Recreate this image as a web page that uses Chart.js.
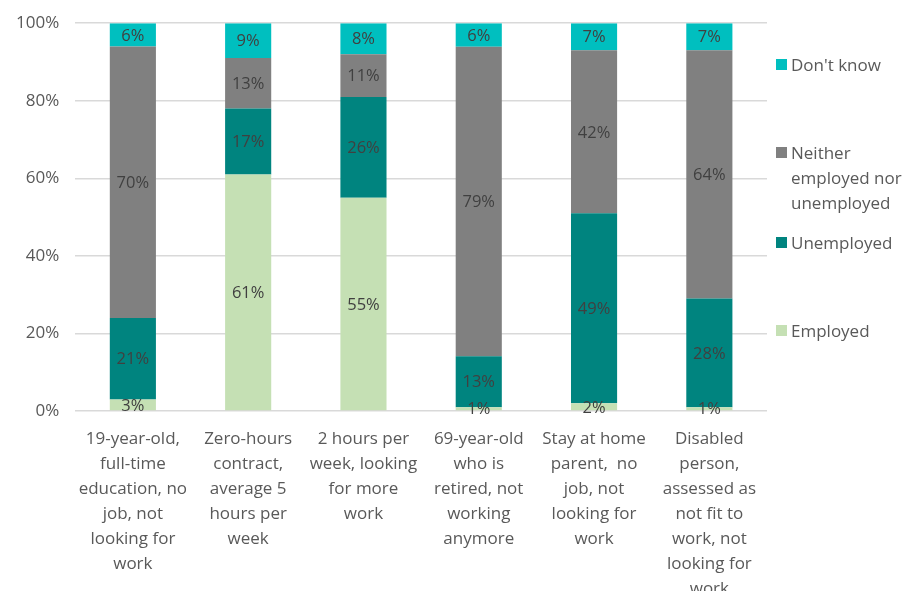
<!DOCTYPE html>
<html>
<head>
<meta charset="utf-8">
<script src="https://cdn.jsdelivr.net/npm/chart.js@4/dist/chart.umd.min.js"></script>
<style>
  html, body { margin: 0; padding: 0; background: #fff; }
  #wrap { position: relative; width: 906px; height: 591px; overflow: hidden; }
  #chart { position: absolute; left: 0; top: -3px; }
  #legend { position: absolute; left: 776px; top: 0; font-family: 'Open Sans', sans-serif; font-size: 17px; color: #595959; }
  .item { position: absolute; left: 0; width: 130px; line-height: 25px; }
  .sw { position: absolute; left: 0; top: 7px; width: 11px; height: 11px; }
  .txt { position: absolute; left: 15px; top: 0; white-space: nowrap; }
</style>
</head>
<body>
<div id="wrap">
  <canvas id="chart" width="906" height="613"></canvas>
  <div id="legend"></div>
</div>
<script>
const categories = [
    ['19-year-old,', 'full-time', 'education, no', 'job, not', 'looking for', 'work'],
    ['Zero-hours', 'contract,', 'average 5', 'hours per', 'week'],
    ['2 hours per', 'week, looking', 'for more', 'work'],
    ['69-year-old', 'who is', 'retired, not', 'working', 'anymore'],
    ['Stay at home', 'parent,  no', 'job, not', 'looking for', 'work'],
    ['Disabled', 'person,', 'assessed as', 'not fit to', 'work, not', 'looking for', 'work']
];
const employed = [3, 61, 55, 1, 2, 1];
const unemployed = [21, 17, 26, 13, 49, 28];
const neither = [70, 13, 11, 79, 42, 64];
const dontKnow = [6, 9, 8, 6, 7, 7];

const yTicks = [0, 20, 40, 60, 80, 100];

const seriesNames = ['Employed', 'Unemployed', ['Neither', 'employed nor', 'unemployed'], "Don't know"];
const seriesColors = ['#c5e0b4', '#00847f', '#808080', '#00bfbf'];
const seriesValues = [employed, unemployed, neither, dontKnow];

// 100% stacked: each bar scaled to its own total
const totals = categories.map((c, j) => seriesValues.reduce((s, arr) => s + arr[j], 0));

const segmentLabels = {
    id: 'segmentLabels',
    afterDatasetsDraw(chart) {
        const ctx = chart.ctx;
        ctx.save();
        ctx.font = '16.5px "Open Sans", sans-serif';
        ctx.fillStyle = '#404040';
        ctx.textAlign = 'center';
        ctx.textBaseline = 'middle';
        chart.data.datasets.forEach((ds, i) => {
            chart.getDatasetMeta(i).data.forEach((bar, j) => {
                ctx.fillText(seriesValues[i][j] + '%', bar.x, (bar.y + bar.base) / 2 + 1);
            });
        });
        ctx.restore();
    }
};

const datasets = seriesValues.map((d, i) => ({
    label: Array.isArray(seriesNames[i]) ? seriesNames[i].join(' ') : seriesNames[i],
    data: d.map((v, j) => v / totals[j] * 100),
    backgroundColor: seriesColors[i],
    borderWidth: 0,
    barPercentage: 0.8,
    categoryPercentage: 0.5
}));

new Chart(document.getElementById('chart'), {
    type: 'bar',
    data: { labels: categories, datasets: datasets },
    options: {
        responsive: false,
        animation: false,
        layout: { padding: { left: 0, right: 139, top: 4, bottom: 0 } },
        plugins: { legend: { display: false }, tooltip: { enabled: false } },
        scales: {
            x: {
                stacked: true,
                grid: { display: false },
                border: { display: false },
                ticks: {
                    color: '#595959',
                    font: { family: '"Open Sans", sans-serif', size: 17, lineHeight: 1.47 },
                    maxRotation: 0,
                    autoSkip: false,
                    padding: 8
                }
            },
            y: {
                stacked: true,
                min: 0,
                max: 100,
                afterBuildTicks: axis => { axis.ticks = yTicks.map(v => ({ value: v })); },
                grid: { color: '#d9d9d9', lineWidth: 1.5, drawTicks: false },
                border: { display: false },
                ticks: {
                    color: '#595959',
                    font: { family: '"Open Sans", sans-serif', size: 17 },
                    padding: 16,
                    callback: v => v + '%'
                }
            }
        }
    },
    plugins: [segmentLabels]
});

// legend, top to bottom in reverse series order
const legendTops = [318, 230, 140, 52];
const legend = document.getElementById('legend');
[3, 2, 1, 0].forEach(i => {
    const name = seriesNames[i];
    const item = document.createElement('div');
    item.className = 'item';
    item.style.top = legendTops[i] + 'px';
    item.innerHTML = '<span class="sw" style="background:' + seriesColors[i] + '"></span>' +
        '<span class="txt">' + (Array.isArray(name) ? name.join('<br>') : name) + '</span>';
    legend.appendChild(item);
});
</script>
</body>
</html>
